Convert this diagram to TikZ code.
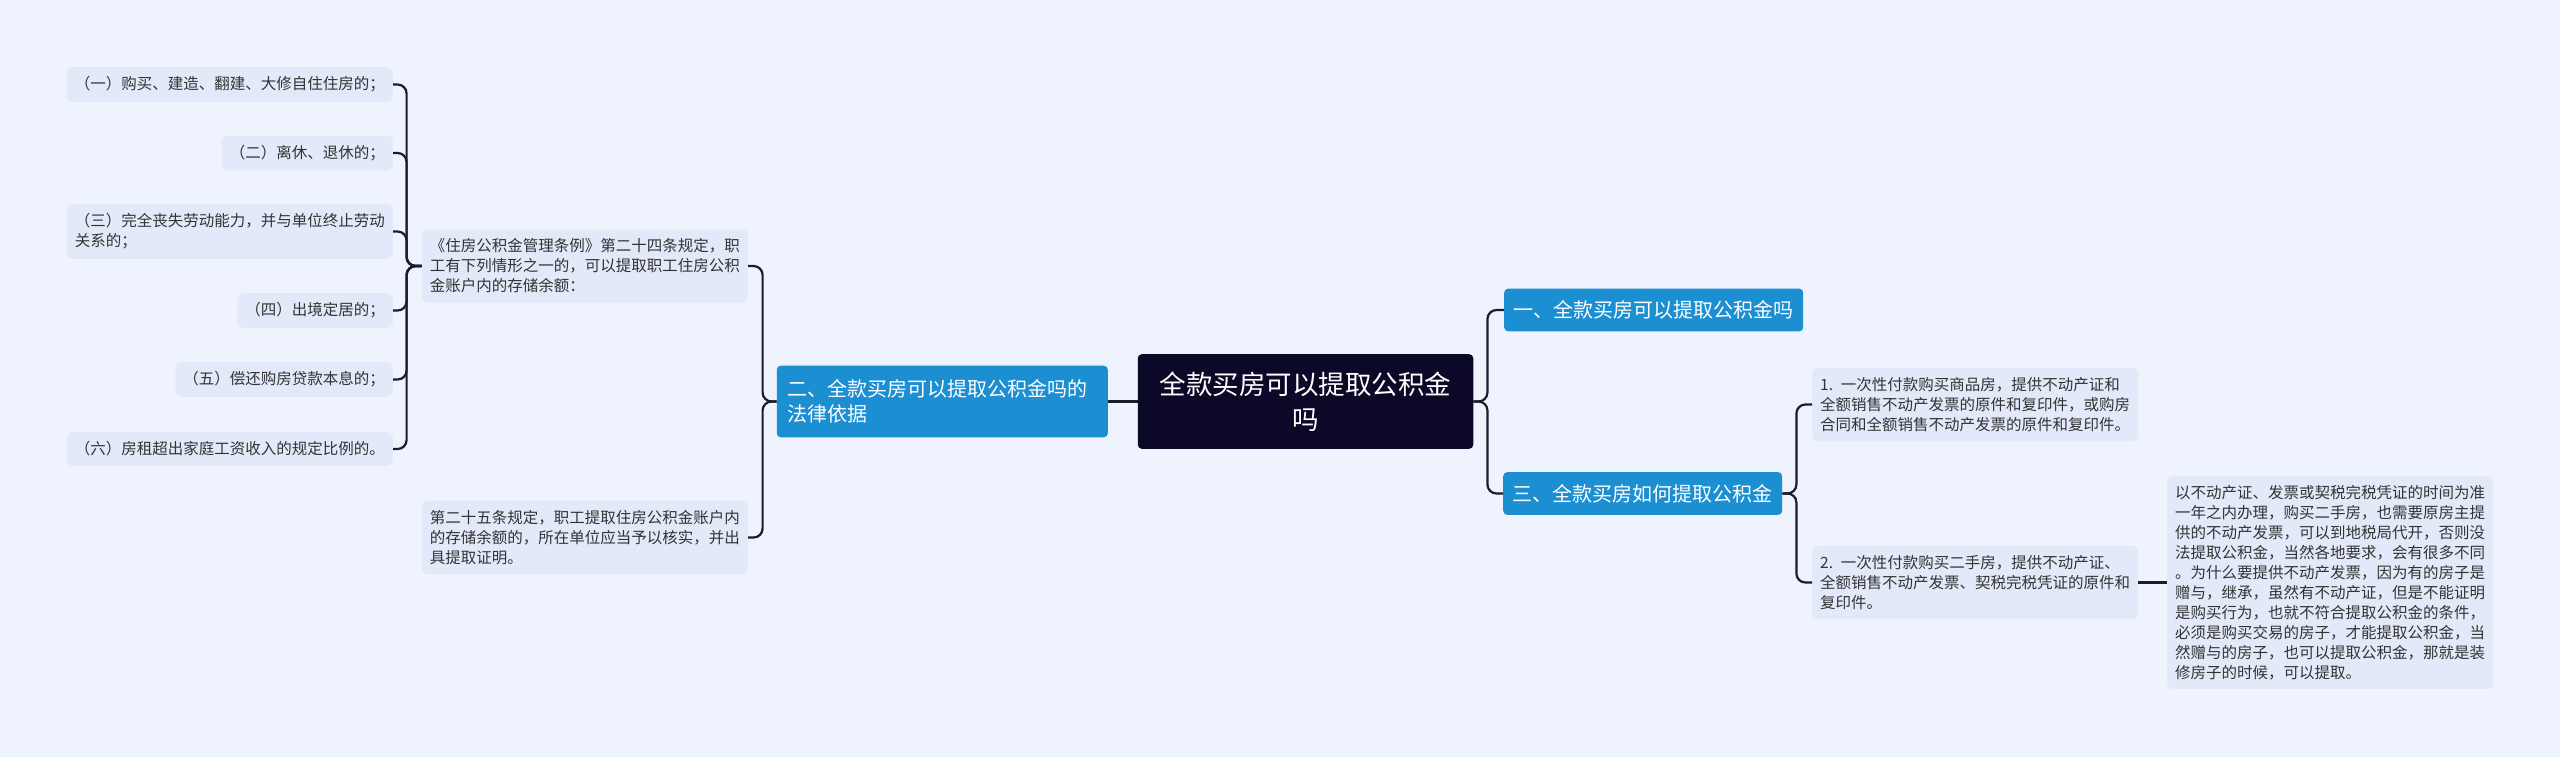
\documentclass[tikz,border=0pt]{standalone}
\usepackage{fontspec}
\setmainfont{Noto Sans CJK SC}
\usepackage{xcolor}
\usepackage{tikz}

\definecolor{bgc}{HTML}{EEF3FD}
\definecolor{leafc}{HTML}{E2EAFA}
\definecolor{bluec}{HTML}{1B8FD2}
\definecolor{rootc}{HTML}{0B0828}
\definecolor{linec}{HTML}{1C1C2C}
\definecolor{txtc}{HTML}{333333}

\begin{document}
\begin{tikzpicture}[x=1pt,y=-1pt,
    root/.style={fill=rootc,text=white,rounded corners=4pt,align=center,font=\fontsize{26.5}{35}\selectfont,inner xsep=22pt,inner ysep=17.5pt},
    topic/.style={fill=bluec,text=white,rounded corners=4pt,align=left,font=\fontsize{20}{25}\selectfont,inner xsep=9.5pt,inner ysep=12pt},
    leaf/.style={fill=leafc,text=txtc,rounded corners=6pt,align=left,font=\fontsize{15.5}{20}\selectfont,inner xsep=8pt,inner ysep=9.5pt},
    link/.style={draw=linec,line width=2.2pt,rounded corners=9pt}]
    \fill[bgc] (0,0) rectangle (2560,757);
    \node[root] (main) at (1305.5,401.5) {全款买房可以提取公积金\\吗};
    \node[topic,anchor=east,text width=310pt,inner xsep=10.5pt,inner ysep=14pt] (law) at (1108,401.5) {二、全款买房可以提取公积金吗的\\法律依据};
    \node[topic,anchor=west] (q1) at (1504,310) {一、全款买房可以提取公积金吗};
    \node[topic,anchor=west] (q3) at (1503,493.5) {三、全款买房如何提取公积金};
    \node[leaf,anchor=west,text width=310pt] (buynew) at (1812,404.5) {1. 一次性付款购买商品房，提供不动产证和\\全额销售不动产发票的原件和复印件，或购房\\合同和全额销售不动产发票的原件和复印件。};
    \node[leaf,anchor=west,text width=310pt] (buyold) at (1812,582.5) {2. 一次性付款购买二手房，提供不动产证、\\全额销售不动产发票、契税完税凭证的原件和\\复印件。};
    \node[leaf,anchor=west,text width=310pt,inner ysep=9pt] (why) at (2167,582.5) {以不动产证、发票或契税完税凭证的时间为准\\一年之内办理，购买二手房，也需要原房主提\\供的不动产发票，可以到地税局代开，否则没\\法提取公积金，当然各地要求，会有很多不同\\。为什么要提供不动产发票，因为有的房子是\\赠与，继承，虽然有不动产证，但是不能证明\\是购买行为，也就不符合提取公积金的条件，\\必须是购买交易的房子，才能提取公积金，当\\然赠与的房子，也可以提取公积金，那就是装\\修房子的时候，可以提取。};
    \node[leaf,anchor=east,text width=310pt] (art24) at (748,266) {《住房公积金管理条例》第二十四条规定，职\\工有下列情形之一的，可以提取职工住房公积\\金账户内的存储余额：};
    \node[leaf,anchor=east,text width=310pt] (art25) at (748,537.5) {第二十五条规定，职工提取住房公积金账户内\\的存储余额的，所在单位应当予以核实，并出\\具提取证明。};
    \node[leaf,anchor=east] (c1) at (393,84.5) {（一）购买、建造、翻建、大修自住住房的；};
    \node[leaf,anchor=east] (c2) at (393,153) {（二）离休、退休的；};
    \node[leaf,anchor=east] (c3) at (393,231.5) {（三）完全丧失劳动能力，并与单位终止劳动\\关系的；};
    \node[leaf,anchor=east] (c4) at (393,310.5) {（四）出境定居的；};
    \node[leaf,anchor=east] (c5) at (393,379.5) {（五）偿还购房贷款本息的；};
    \node[leaf,anchor=east] (c6) at (393,449) {（六）房租超出家庭工资收入的规定比例的。};
    \draw[link] (main.west) -- (law.east);
    \draw[link] (main.east) -- ++(14,0) |- (q1.west);
    \draw[link] (main.east) -- ++(14,0) |- (q3.west);
    \draw[link] (q3.east) -- ++(14,0) |- (buynew.west);
    \draw[link] (q3.east) -- ++(14,0) |- (buyold.west);
    \draw[link] (buyold.east) -- (why.west);
    \draw[link] (law.west) -- ++(-14,0) |- (art24.east);
    \draw[link] (law.west) -- ++(-14,0) |- (art25.east);
    \foreach \c in {c1,c2,c3,c4,c5,c6}
        \draw[link] (art24.west) -- ++(-15,0) |- (\c.east);
\end{tikzpicture}
\end{document}
